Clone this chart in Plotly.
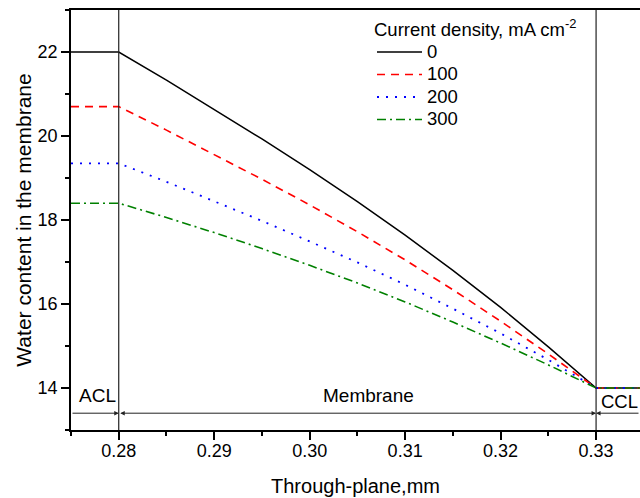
import plotly.graph_objects as go

# ---- data ----
x_pos = [0.275, 0.280, 0.285, 0.290, 0.295, 0.300, 0.305, 0.310, 0.315, 0.320, 0.325, 0.330, 0.335]
lam_0 = [22.00, 22.00, 21.33, 20.64, 19.93, 19.20, 18.44, 17.64, 16.80, 15.92, 14.98, 14.00, 14.00]
lam_100 = [20.70, 20.70, 20.14, 19.56, 18.97, 18.36, 17.72, 17.05, 16.34, 15.59, 14.81, 14.00, 14.00]
lam_200 = [19.35, 19.35, 18.91, 18.45, 17.98, 17.49, 16.99, 16.46, 15.89, 15.30, 14.67, 14.00, 14.00]
lam_300 = [18.40, 18.40, 18.06, 17.70, 17.32, 16.92, 16.50, 16.05, 15.57, 15.07, 14.55, 14.00, 14.00]
series_names = ["0", "100", "200", "300"]
series_values = [lam_0, lam_100, lam_200, lam_300]

x_tick_vals = [0.28, 0.29, 0.30, 0.31, 0.32, 0.33]
x_tick_text = ["0.28", "0.29", "0.30", "0.31", "0.32", "0.33"]
y_tick_vals = [14, 16, 18, 20, 22]
y_tick_text = ["14", "16", "18", "20", "22"]

region_names = ["ACL", "Membrane", "CCL"]
region_bounds = [0.275, 0.28, 0.33, 0.3346]
region_label_x = [0.2778, 0.3062, 0.3303]
dim_line_y = 13.4

# ---- styles ----
colors = ["black", "#ff0000", "#0000ff", "#008000"]
dashes = ["solid", "8px,6px", "2px,7px", "9px,4px,2px,4px"]
widths = [1.5, 1.6, 1.8, 1.6]
FONT = "Arial, Liberation Sans, sans-serif"
LEG_TXT = "<span style='font-size:18.5px'>{}</span>"

fig = go.Figure()
for name, vals, c, d, w in zip(series_names, series_values, colors, dashes, widths):
    fig.add_trace(go.Scatter(x=x_pos, y=vals, mode="lines", name=LEG_TXT.format(name),
                             line=dict(color=c, dash=d, width=w)))

# vertical boundary lines
for b in region_bounds[1:3]:
    fig.add_shape(type="line", x0=b, x1=b, y0=0, y1=1, xref="x", yref="paper",
                  line=dict(color="#222", width=1.2))

annotations = []
arrow_kw = dict(xref="x", yref="y", axref="x", ayref="y", text="", showarrow=True,
                arrowhead=2, arrowsize=0.9, arrowwidth=1, arrowcolor="#222")
annotations.append(dict(x=region_bounds[1], y=dim_line_y, ax=region_bounds[0], ay=dim_line_y, **arrow_kw))
annotations.append(dict(x=region_bounds[2], y=dim_line_y, ax=region_bounds[1], ay=dim_line_y,
                        arrowside="end+start", startarrowhead=2, startarrowsize=0.9, **arrow_kw))
annotations.append(dict(x=region_bounds[2], y=dim_line_y, ax=region_bounds[3], ay=dim_line_y, **arrow_kw))
# region labels
annotations.append(dict(x=region_label_x[0], y=13.81, xref="x", yref="y", text=region_names[0],
                        showarrow=False, font=dict(size=19)))
annotations.append(dict(x=region_label_x[1], y=13.83, xref="x", yref="y", text=region_names[1],
                        showarrow=False, font=dict(size=19)))
annotations.append(dict(x=region_label_x[2], y=13.67, xref="x", yref="y", text=region_names[2],
                        showarrow=False, xanchor="left", font=dict(size=18.5)))

fig.update_layout(
    width=640, height=498,
    margin=dict(l=71, r=0, t=10, b=68, autoexpand=False),
    plot_bgcolor="white", paper_bgcolor="white",
    font=dict(family=FONT, size=18, color="black"),
    annotations=annotations,
    legend=dict(x=0.529, y=0.996, xanchor="left", yanchor="top",
                bgcolor="rgba(0,0,0,0)", borderwidth=0, tracegroupgap=0,
                itemwidth=45,
                font=dict(size=15),
                title=dict(text="Current density, mA cm<sup>-2</sup>", font=dict(size=18.5))),
    xaxis=dict(range=[region_bounds[0], region_bounds[3]], tickvals=x_tick_vals, ticktext=x_tick_text,
               ticks="outside", ticklen=8, tickwidth=1.5, tickcolor="black",
               ticklabelstandoff=-4,
               showline=True, linewidth=1.5, linecolor="black", mirror=True,
               showgrid=False, zeroline=False, automargin=False,
               minor=dict(tick0=0.275, dtick=0.005, ticks="outside", ticklen=4, tickwidth=1.5,
                          tickcolor="black", showgrid=False),
               title=dict(text="Through-plane,mm", font=dict(size=20), standoff=19)),
    yaxis=dict(range=[13, 23], tickvals=y_tick_vals, ticktext=y_tick_text,
               ticks="outside", ticklen=8, tickwidth=1.5, tickcolor="black",
               showline=True, linewidth=1.5, linecolor="black",
               showgrid=False, zeroline=False, automargin=False,
               minor=dict(tick0=13, dtick=1, ticks="outside", ticklen=4, tickwidth=1.5,
                          tickcolor="black", showgrid=False),
               title=dict(text="Water content in the membrane", font=dict(size=21), standoff=0)),
)

fig.write_html("out.html", config={"displayModeBar": False},
               post_script="document.body.style.margin='0px';")
